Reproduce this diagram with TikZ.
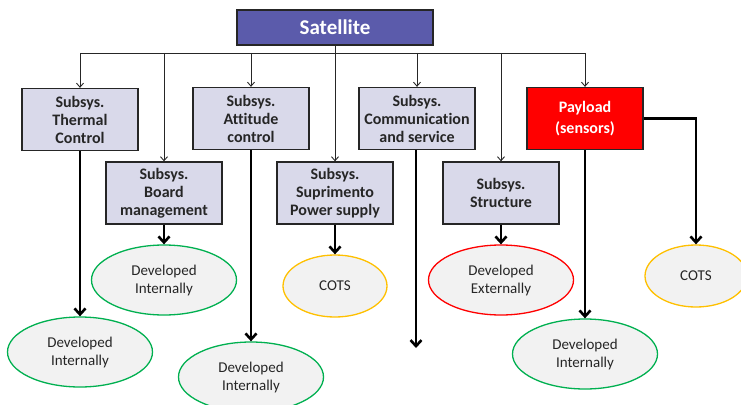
\documentclass[tikz,border=0pt]{standalone}
\usepackage{fontspec}
\setmainfont{Carlito}[Ligatures=CommonOff]
\usetikzlibrary{arrows.meta,shapes.geometric}

\definecolor{satblue}{RGB}{91,91,171}
\definecolor{boxfill}{RGB}{217,217,234}
\definecolor{ovalfill}{RGB}{242,242,242}
\definecolor{devgreen}{RGB}{0,176,80}
\definecolor{cotsorange}{RGB}{255,192,0}
\definecolor{textgray}{RGB}{38,38,38}

\begin{document}
\begin{tikzpicture}[x=1pt,y=-1pt,
    subsys/.style={draw=textgray,line width=1.3pt,fill=boxfill,text=textgray,
        minimum width=116pt,minimum height=62pt,align=center,inner sep=1pt,
        font=\bfseries\fontsize{16}{18}\selectfont},
    oval/.style={ellipse,line width=1.3pt,fill=ovalfill,text=textgray,
        minimum width=145pt,minimum height=70pt,align=center,inner sep=1pt,
        font=\fontsize{15}{18}\selectfont},
    thinarrow/.style={line width=0.9pt,textgray,-{Straight Barb[length=4pt,width=7pt]}},
    thickarrow/.style={line width=2.6pt,black,-{Straight Barb[length=6pt,width=11pt]}}]
    \useasboundingbox (0,0) rectangle (741,404);

    % top
    \node[draw=textgray,line width=1.3pt,fill=satblue,text=white,minimum width=196pt,
        minimum height=35pt,font=\bfseries\fontsize{21}{24}\selectfont] (satellite) at (335,27.5) {Satellite};
    \coordinate (bus) at (335,53);

    % subsystems
    \node[subsys] (thermal) at (80,119.5) {Subsys.\\Thermal\\Control};
    \node[subsys] (board) at (164,193) {Subsys.\\Board\\management};
    \node[subsys] (attitude) at (251,118.5) {Subsys.\\Attitude\\control};
    \node[subsys] (power) at (335,193) {Subsys.\\Suprimento\\Power supply};
    \node[subsys] (comm) at (417,118.5) {Subsys.\\Communication\\and service};
    \node[subsys] (structure) at (501,193) {Subsys.\\Structure};
    \node[subsys,fill=red,text=white,font=\bfseries\fontsize{16}{21}\selectfont] (payload) at (585,118.5) {Payload\\(sensors)};

    % origins
    \node[oval,draw=devgreen] (devthermal) at (80,352) {Developed\\Internally};
    \node[oval,draw=devgreen] (devboard) at (164,280) {Developed\\Internally};
    \node[oval,draw=devgreen] (devattitude) at (251,377) {Developed\\Internally};
    \node[oval,draw=cotsorange,minimum width=104pt,minimum height=62pt] (cotspower) at (335,286) {COTS};
    \node[oval,draw=red] (devstructure) at (501,280) {Developed\\Externally};
    \node[oval,draw=devgreen] (devpayload) at (585,354) {Developed\\Internally};
    \node[oval,draw=cotsorange,minimum width=102pt,minimum height=62pt] (cotspayload) at (696,276) {COTS};
    \coordinate (commend) at (416,348);

    % bus
    \draw[line width=0.9pt,textgray] (bus -| thermal.north) -- (bus -| payload.north);
    \draw[thinarrow] (satellite) -- (power);
    \foreach \sub in {thermal,board,attitude,comm,structure,payload}
        \draw[thinarrow] (bus -| \sub.north) -- (\sub.north);

    % down
    \draw[thickarrow] (thermal) -- (devthermal);
    \draw[thickarrow] (board) -- (devboard);
    \draw[thickarrow] (attitude) -- (devattitude);
    \draw[thickarrow] (power) -- (cotspower);
    \draw[thickarrow] (comm.south -| commend) -- (commend);
    \draw[thickarrow] (structure) -- (devstructure);
    \draw[thickarrow] (payload) -- (devpayload);
    \draw[thickarrow] (payload.east) -| (cotspayload.north);
\end{tikzpicture}
\end{document}
